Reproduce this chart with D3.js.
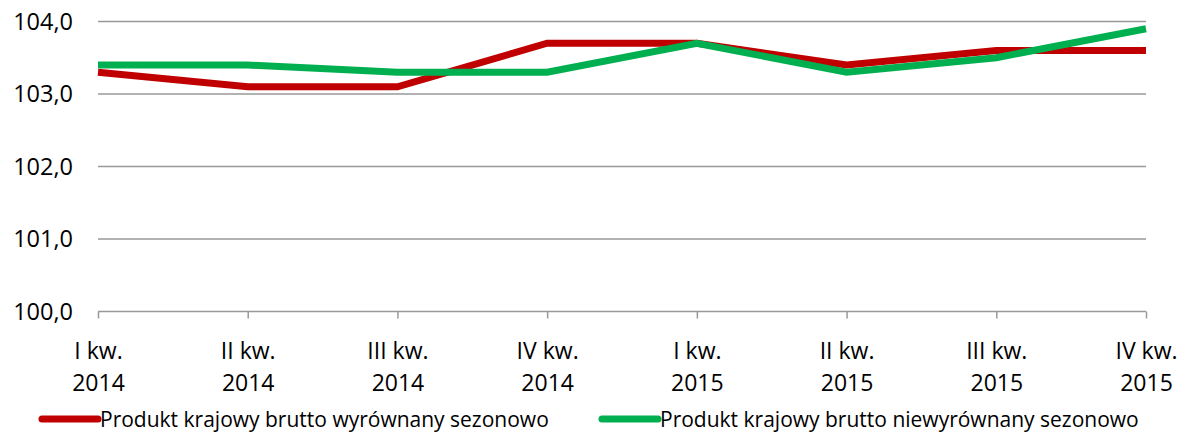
<!DOCTYPE html>
<html><head><meta charset="utf-8">
<script src="https://cdn.jsdelivr.net/npm/d3@7"></script>
<style>body{margin:0;background:#fff}svg{display:block}</style>
</head><body>
<svg id="c" width="1181" height="432"></svg>
<script>
const categories = [["I kw.","2014"],["II kw.","2014"],["III kw.","2014"],["IV kw.","2014"],["I kw.","2015"],["II kw.","2015"],["III kw.","2015"],["IV kw.","2015"]];
const seasonallyAdjusted = [103.3,103.1,103.1,103.7,103.7,103.4,103.6,103.6];
const notAdjusted = [103.4,103.4,103.3,103.3,103.7,103.3,103.5,103.9];
const yTicks = [100,101,102,103,104];
const seriesNames = ["Produkt krajowy brutto wyrównany sezonowo","Produkt krajowy brutto niewyrównany sezonowo"];
const colors = ["#C00000","#00B050"];

const svg = d3.select("#c");
const font = "'Open Sans', 'Liberation Sans', sans-serif";
const x = d3.scalePoint().domain(d3.range(categories.length)).range([98,1146]);
const y = d3.scaleLinear().domain([100,104]).range([311.5,21.5]);

// gridlines
svg.append("g").selectAll("line").data(yTicks.filter(t=>t>100)).join("line")
  .attr("x1",98).attr("x2",1146).attr("y1",d=>y(d)).attr("y2",d=>y(d))
  .attr("stroke","#999").attr("stroke-width",1.5);

// y axis labels
const yAxis = d3.axisLeft(y).tickValues(yTicks).tickSize(0).tickPadding(0)
  .tickFormat(d=>d3.format(".1f")(d).replace(".",","));
const gy = svg.append("g").attr("transform","translate(73,0)").call(yAxis);
gy.select(".domain").remove();
gy.selectAll("text").attr("font-family",font).attr("font-size",23.5).attr("fill","#000");

// x axis
const xAxis = d3.axisBottom(x).tickSize(7).tickFormat("");
const gx = svg.append("g").attr("transform",`translate(0,${y(100)})`).call(xAxis);
gx.select(".domain").attr("stroke","#999").attr("stroke-width",1.5).attr("d","M98,0H1146");
gx.selectAll(".tick line").attr("stroke","#999").attr("stroke-width",1.5);
gx.selectAll(".tick").each(function(d){
  const t = d3.select(this).append("text").attr("font-family",font).attr("font-size",23)
    .attr("fill","#000").attr("text-anchor","middle");
  t.append("tspan").attr("x",0).attr("y",47).text(categories[d][0]);
  t.append("tspan").attr("x",0).attr("y",79).text(categories[d][1]);
});

// lines
const line = d3.line().x((d,i)=>x(i)).y(d=>y(d));
[seasonallyAdjusted, notAdjusted].forEach((s,i)=>{
  svg.append("path").datum(s).attr("d",line).attr("fill","none")
    .attr("stroke",colors[i]).attr("stroke-width",7).attr("stroke-linejoin","miter");
});

// legend
const legX = [42,602];
seriesNames.forEach((n,i)=>{
  const g = svg.append("g").attr("transform",`translate(${legX[i]},419)`);
  g.append("line").attr("x1",0).attr("x2",56).attr("y1",0).attr("y2",0)
    .attr("stroke",colors[i]).attr("stroke-width",7).attr("stroke-linecap","round");
  g.append("text").attr("x",58).attr("y",7.5).attr("font-family",font).attr("font-size",21)
    .attr("fill","#000").text(n);
});
</script>
</body></html>
